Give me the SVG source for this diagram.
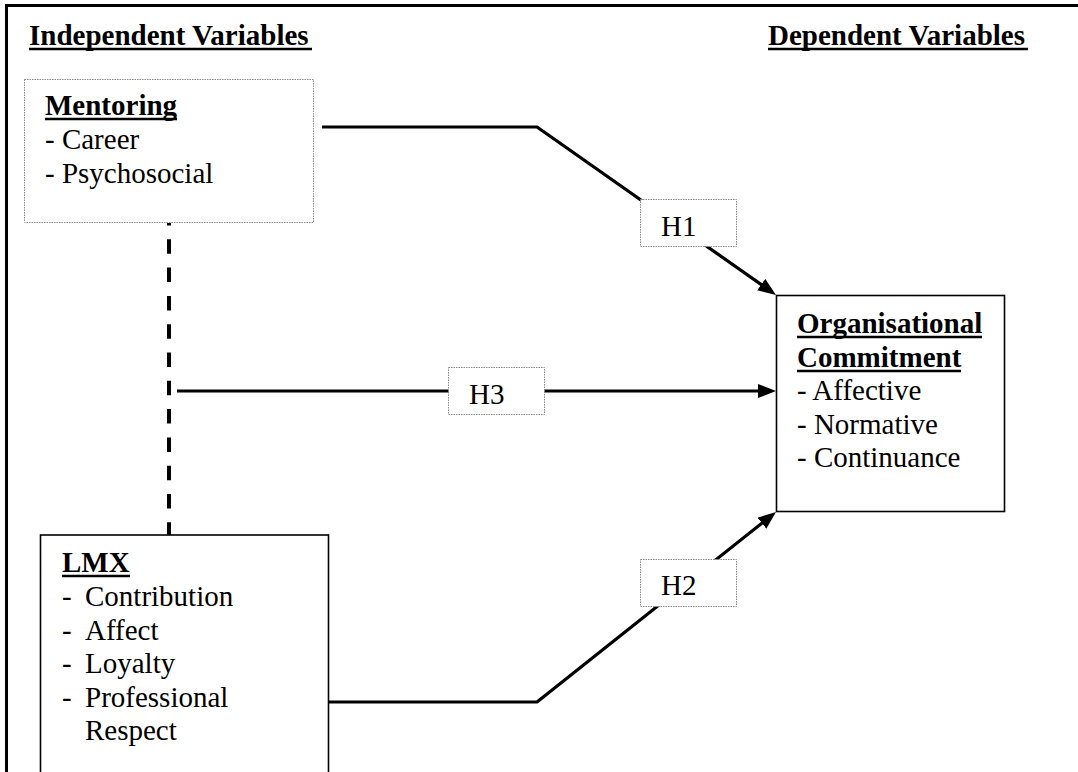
<svg xmlns="http://www.w3.org/2000/svg" width="1078" height="772" viewBox="0 0 1078 772">
<style>
text{font-family:"Liberation Serif","Times New Roman",serif;font-size:29px;fill:#000}
.b{font-weight:bold}
.ul{stroke:#000;stroke-width:2.6}
.dot{fill:#fff;stroke:#8a8a8a;stroke-width:1;stroke-dasharray:1.5 1}
.solid{fill:#fff;stroke:#000;stroke-width:1.6}
.conn{fill:none;stroke:#000;stroke-width:3.2;stroke-linejoin:bevel}
</style>
<defs>
<marker id="ah" markerUnits="userSpaceOnUse" markerWidth="20" markerHeight="16" refX="8" refY="7" orient="auto">
<path d="M0,0 L18,7 L0,14 z" fill="#000"/>
</marker>
</defs>
<rect width="1078" height="772" fill="#fff"/>
<path d="M6.5,772 V5.5 H1078" fill="none" stroke="#000" stroke-width="3"/>
<g id="headers">
<text class="b" x="29" y="45">Independent Variables</text>
<line class="ul" x1="29" y1="49" x2="312" y2="49"/>
<text class="b" x="768" y="45">Dependent Variables</text>
<line class="ul" x1="768" y1="49" x2="1028" y2="49"/>
</g>
<g id="connectors">
<polyline class="conn" points="322,127 537,127 767.8,289.2" marker-end="url(#ah)"/>
<line class="conn" x1="177" y1="391" x2="766" y2="391" marker-end="url(#ah)"/>
<polyline class="conn" points="329,702 537,702 768.2,518.2" marker-end="url(#ah)"/>
<line x1="169" y1="223" x2="169" y2="535" stroke="#000" stroke-width="4" stroke-dasharray="14.5 13.8" stroke-dashoffset="12"/>
</g>
<g id="mentoring">
<rect class="dot" x="24.5" y="79.5" width="289" height="143"/>
<text class="b" x="45" y="115">Mentoring</text>
<line class="ul" x1="45" y1="119" x2="177" y2="119"/>
<text x="45" y="149">- Career</text>
<text x="45" y="183">- Psychosocial</text>
</g>
<g id="lmx">
<rect class="solid" x="40.5" y="535" width="288" height="260"/>
<text class="b" x="62" y="572">LMX</text>
<line class="ul" x1="62" y1="576" x2="130" y2="576"/>
<text x="62" y="606">-</text><text x="85" y="606">Contribution</text>
<text x="62" y="640">-</text><text x="85" y="640">Affect</text>
<text x="62" y="673">-</text><text x="85" y="673">Loyalty</text>
<text x="62" y="707">-</text><text x="85" y="707">Professional</text>
<text x="85" y="740">Respect</text>
</g>
<g id="org">
<rect class="solid" x="776.5" y="295.5" width="228" height="216"/>
<text class="b" x="797" y="333">Organisational</text>
<line class="ul" x1="797" y1="337" x2="982" y2="337"/>
<text class="b" x="797" y="367">Commitment</text>
<line class="ul" x1="797" y1="371" x2="961" y2="371"/>
<text x="797" y="400">- Affective</text>
<text x="797" y="434">- Normative</text>
<text x="797" y="467">- Continuance</text>
</g>
<g id="h1">
<rect class="dot" x="640.5" y="199.5" width="96" height="47"/>
<text x="661" y="236">H1</text>
</g>
<g id="h3">
<rect class="dot" x="448.5" y="367.5" width="96" height="47"/>
<text x="469" y="404">H3</text>
</g>
<g id="h2">
<rect class="dot" x="640.5" y="559.5" width="96" height="47"/>
<text x="661" y="595">H2</text>
</g>
</svg>
